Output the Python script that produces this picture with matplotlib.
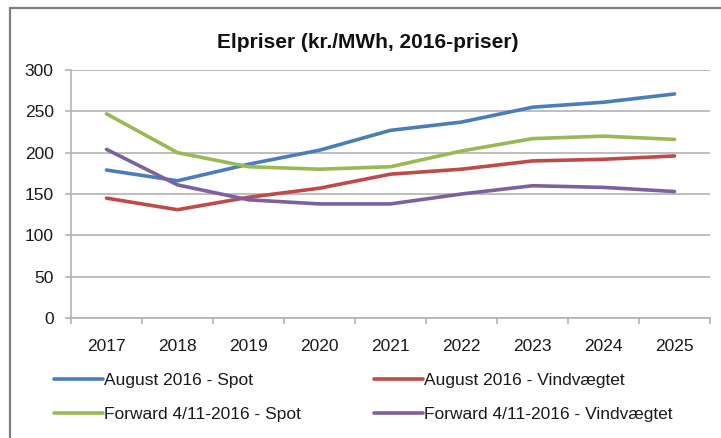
import matplotlib
matplotlib.use("Agg")
import matplotlib.pyplot as plt
from matplotlib.patches import Rectangle
from matplotlib.ticker import FixedLocator

# ---------------------------------------------------------------------------
# Data
# ---------------------------------------------------------------------------
years = ["2017", "2018", "2019", "2020", "2021", "2022", "2023", "2024", "2025"]

aug_spot = [179, 166, 186, 203, 227, 237, 255, 261, 271]
aug_vind = [145, 131, 146, 157, 174, 180, 190, 192, 196]
fwd_spot = [247, 200, 183, 180, 183, 202, 217, 220, 216]
fwd_vind = [204, 161, 143, 138, 138, 150, 160, 158, 153]

series_labels = [
    "August 2016 - Spot",
    "August 2016 - Vindvægtet",
    "Forward 4/11-2016 - Spot",
    "Forward 4/11-2016 - Vindvægtet",
]
colours = ["#4A7EBB", "#BE4B48", "#98B954", "#7D60A0"]

y_ticks = [0, 50, 100, 150, 200, 250, 300]

plt.rcParams["font.family"] = ["Liberation Sans", "DejaVu Sans"]

fig = plt.figure(figsize=(7.21, 4.38), dpi=100)
ax = fig.add_axes([71 / 721, 1 - 318 / 438, 639 / 721, 248 / 438])

x = list(range(len(years)))
lines = []
for vals, lbl, col in zip([aug_spot, aug_vind, fwd_spot, fwd_vind], series_labels, colours):
    ln, = ax.plot(x, vals, color=col, linewidth=2.6, label=lbl, solid_capstyle="round")
    lines.append(ln)

ax.set_xlim(-0.5, len(years) - 0.5)
ax.set_ylim(0, 300)
ax.set_yticks(y_ticks)
ax.set_xticks(x)
ax.set_xticklabels(years)
ax.xaxis.set_minor_locator(FixedLocator([i - 0.5 for i in range(len(years) + 1)]))

grey = "#B3B3B3"
ax.grid(axis="y", color=grey, linewidth=1.2)
ax.set_axisbelow(True)
for s in ["top", "right"]:
    ax.spines[s].set_visible(False)
for s in ["left", "bottom"]:
    ax.spines[s].set_color(grey)
    ax.spines[s].set_linewidth(1.2)

txt = "#1A1A1A"
ax.tick_params(axis="y", length=4.5, color=grey, width=1.2, pad=8, labelsize=12.5, labelcolor=txt)
ax.tick_params(axis="x", which="major", length=0, pad=15, labelsize=12.5, labelcolor=txt)
ax.tick_params(axis="x", which="minor", length=4.5, color=grey, width=1.2)

fig.text(368 / 721, 1 - 43 / 438, "Elpriser (kr./MWh, 2016-priser)",
         ha="center", va="center", fontsize=15, fontweight="bold", color="#111111")

# legend fills column-wise, so order handles to get rows: Aug (spot, vind), Forward (spot, vind)
order = [0, 2, 1, 3]
leg = fig.legend(handles=[lines[i] for i in order], loc="upper left",
                 bbox_to_anchor=(47 / 721, 1 - 366 / 438),
                 ncol=2, frameon=False, fontsize=12.5, handlelength=2.8, handletextpad=0.1,
                 columnspacing=4.2, labelspacing=1.1, borderaxespad=0)
for t in leg.get_texts():
    t.set_color(txt)

# outer chart border (right/bottom edges fall outside the image)
fig.patches.append(Rectangle((10 / 721, -0.2), 2.0, 1.2 - 8 / 438,
                             transform=fig.transFigure, fill=False,
                             edgecolor="#7F7F7F", linewidth=1.6))

fig.savefig("out.png", dpi=100)
